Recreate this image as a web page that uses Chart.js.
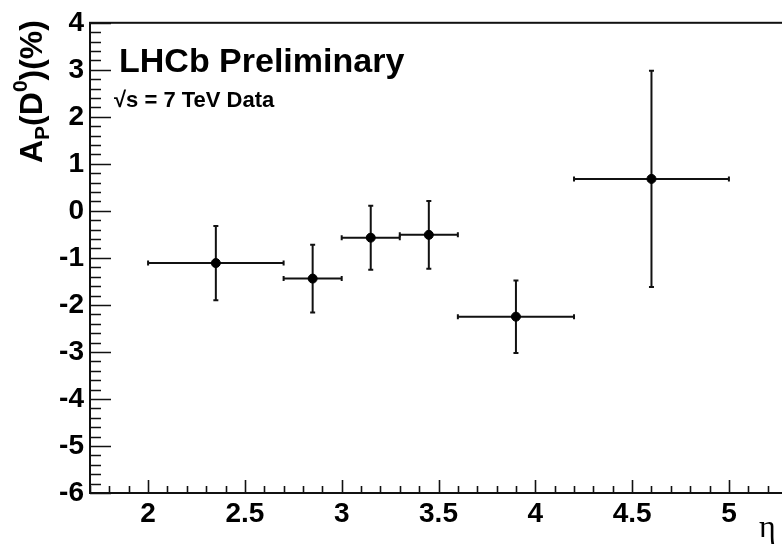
<!DOCTYPE html>
<html>
<head>
<meta charset="utf-8">
<script src="https://cdn.jsdelivr.net/npm/chart.js@4/dist/chart.umd.min.js"></script>
<style>
  html, body { margin: 0; padding: 0; background: #fff; overflow: hidden; }
  #wrap { width: 800px; height: 545px; }
</style>
</head>
<body>
<div id="wrap"><canvas id="asym-chart" width="800" height="545"></canvas></div>
<script>
// eta bins and measured D0 production asymmetry (%)
const etaLow = [2.0, 2.7, 3.0, 3.3, 3.6, 4.2];
const etaHigh = [2.7, 3.0, 3.3, 3.6, 4.2, 5.0];
const etaCenter = [2.35, 2.85, 3.15, 3.45, 3.9, 4.6];
const asym = [-1.11, -1.44, -0.57, -0.51, -2.25, 0.68];
const asymErr = [0.79, 0.72, 0.68, 0.72, 0.77, 2.3];

const xTicks = [2, 2.5, 3, 3.5, 4, 4.5, 5];
const xTickLabels = ["2", "2.5", "3", "3.5", "4", "4.5", "5"];
const yTicks = [-6, -5, -4, -3, -2, -1, 0, 1, 2, 3, 4];
const yTickLabels = ["-6", "-5", "-4", "-3", "-2", "-1", "0", "1", "2", "3", "4"];

const FONT = "'Liberation Sans', Arial, Helvetica, sans-serif";

const errorBars = {
  id: "errorBars",
  beforeDatasetsDraw(chart) {
    const { ctx, scales: { x, y } } = chart;
    const cap = 2.5;
    ctx.save();
    ctx.strokeStyle = "#111";
    ctx.lineWidth = 2;
    etaCenter.forEach((c, i) => {
      const px = x.getPixelForValue(c);
      const py = y.getPixelForValue(asym[i]);
      const xl = x.getPixelForValue(etaLow[i]);
      const xr = x.getPixelForValue(etaHigh[i]);
      const yt = y.getPixelForValue(asym[i] + asymErr[i]);
      const yb = y.getPixelForValue(asym[i] - asymErr[i]);
      ctx.beginPath();
      ctx.moveTo(xl, py); ctx.lineTo(xr, py);
      ctx.moveTo(px, yt); ctx.lineTo(px, yb);
      ctx.moveTo(xl, py - cap); ctx.lineTo(xl, py + cap);
      ctx.moveTo(xr, py - cap); ctx.lineTo(xr, py + cap);
      ctx.moveTo(px - cap, yt); ctx.lineTo(px + cap, yt);
      ctx.moveTo(px - cap, yb); ctx.lineTo(px + cap, yb);
      ctx.stroke();
    });
    ctx.restore();
  }
};

// ROOT style frame: box with ticks pointing inwards, plus the texts
const frame = {
  id: "frame",
  afterDraw(chart) {
    const { ctx, chartArea: a, scales: { x, y } } = chart;
    ctx.save();
    ctx.strokeStyle = "#111";
    ctx.lineWidth = 2;
    ctx.strokeRect(a.left, a.top, a.right - a.left, a.bottom - a.top);

    ctx.lineWidth = 1.6;
    ctx.beginPath();
    for (let k = Math.ceil(x.min * 10); k <= Math.floor(x.max * 10); k++) {
      const px = Math.round(x.getPixelForValue(k / 10)) + 0.5;
      const len = k % 5 === 0 ? 13 : 7;
      ctx.moveTo(px, a.bottom); ctx.lineTo(px, a.bottom - len);
    }
    for (let k = Math.ceil(y.min * 5); k <= Math.floor(y.max * 5); k++) {
      const py = Math.round(y.getPixelForValue(k / 5)) + 0.5;
      const len = k % 5 === 0 ? 21 : 11;
      ctx.moveTo(a.left, py); ctx.lineTo(a.left + len, py);
    }
    ctx.stroke();

    ctx.fillStyle = "#000";
    ctx.textBaseline = "alphabetic";
    ctx.textAlign = "left";
    ctx.font = "bold 34px " + FONT;
    ctx.fillText("LHCb Preliminary", 119, 72);
    ctx.font = "bold 22px " + FONT;
    ctx.fillText("\u221As = 7 TeV Data", 114, 107);

    ctx.font = "32px 'Liberation Serif', 'DejaVu Serif', serif";
    ctx.fillText("\u03B7", 759, 537);

    // y axis title A_P(D^0)(%)
    ctx.translate(42, 163);
    ctx.rotate(-Math.PI / 2);
    const parts = [
      ["A", 32, 0], ["P", 21, 7], ["(D", 32, 0], ["0", 21, -15], [")(%)", 32, 0]
    ];
    let cx = 0;
    parts.forEach(([t, size, dy]) => {
      ctx.font = "bold " + size + "px " + FONT;
      ctx.fillText(t, cx, dy);
      cx += ctx.measureText(t).width;
    });
    ctx.restore();
  }
};

const points = etaCenter.map((c, i) => ({ x: c, y: asym[i] }));

new Chart("asym-chart", {
  type: "scatter",
  data: {
    datasets: [{
      label: "A_P(D0)",
      data: points,
      backgroundColor: "#000",
      borderColor: "#000",
      pointRadius: 4.5,
      pointHoverRadius: 4.5
    }]
  },
  options: {
    responsive: false,
    animation: false,
    devicePixelRatio: 1,
    layout: { padding: { left: 0, top: 20, right: 13, bottom: 0 } },
    plugins: { legend: { display: false }, tooltip: { enabled: false } },
    scales: {
      x: {
        type: "linear",
        min: 1.7,
        max: 5.3,
        grid: { display: false, drawTicks: false },
        border: { display: false },
        afterBuildTicks: s => { s.ticks = xTicks.map(v => ({ value: v })); },
        afterFit: s => { s.height = 52; },
        ticks: {
          padding: 4,
          maxRotation: 0,
          color: "#000",
          font: { family: FONT, size: 28, weight: "bold" },
          callback: (v, i) => xTickLabels[i]
        }
      },
      y: {
        type: "linear",
        min: -6,
        max: 4,
        grid: { display: false, drawTicks: false },
        border: { display: false },
        afterBuildTicks: s => { s.ticks = yTicks.map(v => ({ value: v })); },
        afterFit: s => { s.width = 90; },
        ticks: {
          padding: 6,
          color: "#000",
          font: { family: FONT, size: 28, weight: "bold" },
          callback: (v, i) => yTickLabels[i]
        }
      }
    }
  },
  plugins: [errorBars, frame]
});
</script>
</body>
</html>
